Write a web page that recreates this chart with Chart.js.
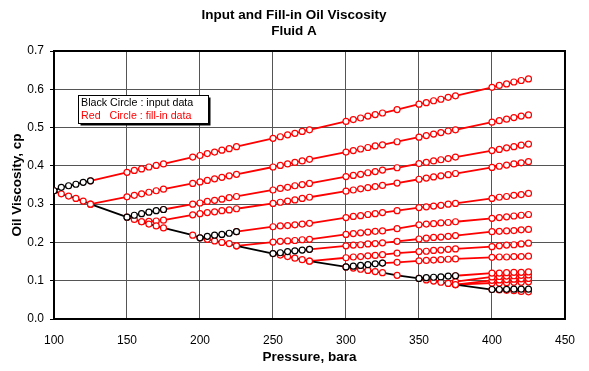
<!DOCTYPE html>
<html><head><meta charset="utf-8">
<script src="https://cdn.jsdelivr.net/npm/chart.js@4"></script>
<style>html,body{margin:0;padding:0;background:#fff}canvas{display:block}</style>
</head><body>
<canvas id="c" width="589" height="371"></canvas>
<script>
// ---- DATA ----
const pressures = [100,105,110,115,120,125,150,155,160,165,170,175,195,200,205,210,215,220,225,250,255,260,265,270,275,300,305,310,315,320,325,335,350,355,360,365,370,375,400,405,410,415,420,425];
// saturated viscosity at every table pressure
const satVisc = [0.335,0.327,0.321,0.315,0.308,0.300, 0.266,0.260,0.254,0.248,0.243,0.238, 0.219,0.212,0.208,0.204,0.200,0.197,0.191, 0.171,0.167,0.163,0.159,0.155,0.151, 0.136,0.133,0.130,0.127,0.124,0.121, 0.114, 0.106,0.102,0.099,0.096,0.093,0.090, 0.077,0.076,0.075,0.074,0.072,0.071];
const satLineEnd = 400;
// input data (black circles): bubble points and undersaturated values
const inputPb = [100,150,200,250,300,350,400];
const inputOffsets = [0,5,10,15,20,25];
const input100 = [0.335,0.344,0.348,0.352,0.357,0.361];
const input150 = [0.266,0.271,0.275,0.279,0.283,0.286];
const input200 = [0.212,0.216,0.219,0.221,0.224,0.228];
const input250 = [0.171,0.173,0.176,0.178,0.180,0.182];
const input300 = [0.136,0.138,0.140,0.142,0.144,0.146];
const input350 = [0.106,0.108,0.109,0.110,0.112,0.113];
const input400 = [0.077,0.077,0.0775,0.078,0.078,0.078];
const inputVisc = [input100,input150,input200,input250,input300,input350,input400];
// fill-in lines (red), values for the last N table pressures (ending at 425)
const fill1 = [0.361, 0.383,0.388,0.392,0.397,0.401,0.405, 0.423,0.427,0.432,0.436,0.441,0.445,0.450, 0.472,0.476,0.481,0.485,0.490,0.494, 0.516,0.521,0.525,0.530,0.534,0.538, 0.547, 0.561,0.565,0.570,0.574,0.579,0.583, 0.605,0.610,0.614,0.619,0.623,0.627];
const fill2 = [0.300, 0.319,0.323,0.327,0.331,0.335,0.339, 0.354,0.358,0.362,0.366,0.370,0.374,0.378, 0.397,0.401,0.405,0.409,0.413,0.417, 0.436,0.440,0.444,0.448,0.452,0.455, 0.463, 0.475,0.479,0.483,0.487,0.491,0.494, 0.514,0.518,0.522,0.526,0.530,0.533];
const fill3 = [0.286, 0.300,0.303,0.307,0.310,0.313,0.317,0.320, 0.337,0.341,0.344,0.348,0.351,0.354, 0.372,0.375,0.378,0.382,0.385,0.389, 0.395, 0.406,0.409,0.413,0.416,0.419,0.423, 0.440,0.443,0.447,0.450,0.454,0.457];
const fill4 = [0.254,0.255,0.256,0.258, 0.272,0.275,0.278,0.280,0.283,0.285,0.288, 0.302,0.305,0.308,0.311,0.315,0.318, 0.334,0.337,0.340,0.343,0.346,0.349, 0.355, 0.365,0.368,0.371,0.374,0.377,0.380, 0.396,0.399,0.402,0.405,0.408,0.411];
const fill5 = [0.228, 0.241,0.243,0.244,0.246,0.248,0.250, 0.265,0.268,0.270,0.273,0.275,0.278, 0.283, 0.291,0.293,0.295,0.297,0.300,0.302, 0.315,0.318,0.320,0.323,0.325,0.328];
const fill6 = [0.191, 0.201,0.203,0.204,0.205,0.207,0.208, 0.221,0.223,0.225,0.227,0.229,0.230, 0.236, 0.246,0.248,0.249,0.251,0.252,0.254, 0.263,0.265,0.267,0.269,0.271,0.273];
const fill7 = [0.182, 0.191,0.193,0.194,0.196,0.197,0.199, 0.203, 0.209,0.211,0.213,0.214,0.216,0.218, 0.228,0.229,0.230,0.231,0.233,0.234];
const fill8 = [0.151, 0.160,0.162,0.163,0.165,0.166,0.168, 0.172, 0.176,0.177,0.179,0.180,0.182,0.183, 0.189,0.191,0.193,0.194,0.196,0.198];
const fill9 = [0.146, 0.148, 0.152,0.153,0.154,0.155,0.156,0.157, 0.161,0.162,0.162,0.163,0.163,0.164];
const fill10 = [0.113, 0.120,0.120,0.121,0.122,0.122,0.123];
const fill11 = [0.0975, 0.110,0.111,0.112,0.113,0.114,0.115];
const fill12 = [0.090, 0.101,0.102,0.103,0.104,0.105,0.106];
const fill13 = [0.090, 0.094,0.094,0.095,0.096,0.096,0.097];
const fillLines = [fill1,fill2,fill3,fill4,fill5,fill6,fill7,fill8,fill9,fill10,fill11,fill12,fill13];
const xTicks = {min:100, max:450, step:50};
const yTicks = {min:0, max:0.7, step:0.1};

// ---- CHART ----
const FONT = "'Liberation Sans', Arial, Helvetica, sans-serif";
const RED = '#ff0000';
function tail(values){
  const p = pressures.slice(pressures.length - values.length);
  return values.map((v,i)=>({x:p[i], y:v}));
}
const datasets = [];
inputPb.forEach((pb,k)=>{
  datasets.push({data: inputOffsets.map((o,i)=>({x:pb+o, y:inputVisc[k][i]})),
    borderColor:'#000', pointBorderColor:'#000', pointBackgroundColor:'#fff', order:0});
});
datasets.push({data: pressures.map((p,i)=>({x:p, y:satVisc[i]})),
  borderColor:RED, pointBorderColor:RED, pointBackgroundColor:'#fff', order:1,
  segment:{borderColor: c => c.p0.parsed.x >= satLineEnd ? RED : 'rgba(0,0,0,0)'}});
datasets.push({data: pressures.map((p,i)=>({x:p, y:satVisc[i]})).filter(d=>d.x<=satLineEnd),
  borderColor:'#000', pointRadius:0, order:2});
fillLines.forEach(v=>{
  datasets.push({data: tail(v), borderColor:RED, pointBorderColor:RED, pointBackgroundColor:'#fff', order:3});
});

const decor = {
  id:'decor',
  beforeDatasetsDraw(chart){
    const {ctx, chartArea:a} = chart;
    ctx.save();
    ctx.strokeStyle = '#000'; ctx.lineWidth = 2;
    ctx.strokeRect(a.left, a.top, a.right-a.left, a.bottom-a.top);
    ctx.restore();
  },
  afterDraw(chart){
    const {ctx, chartArea:a} = chart;
    ctx.save();
    ctx.fillStyle = '#000';
    ctx.textAlign = 'center'; ctx.textBaseline = 'middle';
    ctx.font = 'bold 13.5px ' + FONT;
    ctx.fillText('Input and Fill-in Oil Viscosity', 294, 15);
    ctx.fillText('Fluid A', 294, 31);
    // info box
    const bx = a.left + 24.5, by = a.top + 44.5, bw = 130, bh = 28;
    ctx.fillStyle = '#000';
    ctx.fillRect(bx+2, by+2, bw, bh);
    ctx.fillStyle = '#fff';
    ctx.fillRect(bx, by, bw, bh);
    ctx.strokeStyle = '#000'; ctx.lineWidth = 1;
    ctx.strokeRect(bx, by, bw, bh);
    ctx.textAlign = 'left';
    ctx.font = '10.7px ' + FONT;
    ctx.fillStyle = '#000';
    ctx.fillText('Black Circle : input data', bx+2.5, by+7.5);
    ctx.fillStyle = RED;
    ctx.fillText('Red   Circle : fill-in data', bx+2.5, by+21);
    ctx.restore();
  }
};

new Chart(document.getElementById('c'), {
  type:'line',
  data:{datasets},
  options:{
    responsive:false, animation:false, devicePixelRatio:1,
    layout:{padding:{top:51, right:11, left:0, bottom:0}},
    plugins:{legend:{display:false}, tooltip:{enabled:false}, title:{display:false}},
    elements:{line:{borderWidth:1.8, tension:0}, point:{radius:3, borderWidth:1.2, hoverRadius:3}},
    scales:{
      x:{type:'linear', min:xTicks.min, max:xTicks.max,
        ticks:{stepSize:xTicks.step, color:'#000', font:{family:FONT, size:12}, padding:14, maxRotation:0},
        grid:{color:'#555', drawTicks:false, lineWidth:1},
        border:{display:false},
        title:{display:true, text:'Pressure, bara', color:'#000', font:{family:FONT, size:13.5, weight:'bold'}, padding:{top:0, bottom:6}},
        afterFit(s){ s.height = 52; }
      },
      y:{type:'linear', min:yTicks.min, max:yTicks.max,
        ticks:{stepSize:yTicks.step, color:'#000', font:{family:FONT, size:12}, padding:6, callback:v=>Number(v).toFixed(1)},
        grid:{color:'#555', tickLength:4, tickColor:'#000', lineWidth:1},
        border:{display:false},
        title:{display:true, text:'Oil Viscosity, cp', color:'#000', font:{family:FONT, size:13.5, weight:'bold'}, padding:{top:9, bottom:0}},
        afterFit(s){ s.width = 54; }
      }
    }
  },
  plugins:[decor]
});
</script>
</body></html>
